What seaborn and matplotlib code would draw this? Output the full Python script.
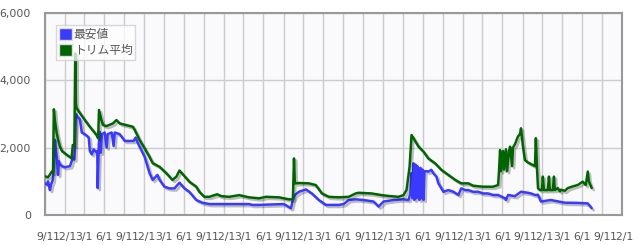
import matplotlib
matplotlib.use("Agg")
import matplotlib.pyplot as plt
import matplotlib.dates as mdates
import matplotlib.patheffects as pe
from matplotlib.patches import Patch
from matplotlib.ticker import FuncFormatter
import seaborn as sns
import pandas as pd

# ---------------- data ----------------
start_date = "2012-09-01"
series_names = ["最安値", "トリム平均"]
series_colors = ["#3a3aff", "#006400"]

min_days = [1, 11, 15, 24, 29, 37, 42, 47, 52, 56, 61, 65, 70, 79, 93, 116, 129, 136, 143, 152,
            161, 170, 189, 202, 207, 216, 225, 234, 241, 243, 248, 252, 257, 262, 275, 284, 289, 307, 316, 321,
            344, 367, 389, 408, 417, 426, 435, 458, 481, 495, 517, 527, 549, 572, 595, 618, 641, 663, 695, 723,
            755, 846, 937, 951, 983, 1097, 1129, 1138, 1147, 1166, 1198, 1225, 1257, 1289, 1348, 1371, 1394, 1426, 1462, 1508,
            1531, 1554, 1600, 1645, 1668, 1677, 1682, 1686, 1691, 1695, 1700, 1705, 1709, 1714, 1718, 1723, 1727, 1732, 1737, 1741,
            1750, 1759, 1773, 1782, 1796, 1805, 1814, 1828, 1851, 1874, 1897, 1910, 1929, 1942, 1965, 1988, 2010, 2033, 2056, 2079,
            2111, 2115, 2125, 2156, 2184, 2216, 2230, 2248, 2262, 2275, 2321, 2385, 2444, 2490, 2508]
min_price = [940, 900, 1000, 740, 900, 1040, 1400, 2230, 1900, 1700, 1190, 1600, 1500, 1450, 1420, 1450, 1700, 1650, 3000, 2900,
             2850, 2450, 2380, 2300, 1900, 1800, 1950, 1880, 1900, 800, 2100, 2470, 1850, 2400, 2450, 2000, 2400, 2450, 2050, 2450,
             2400, 2200, 2200, 2200, 2300, 2150, 2030, 1730, 1240, 1040, 1190, 1040, 840, 790, 790, 960, 790, 690, 445, 365,
             325, 325, 325, 300, 300, 325, 200, 445, 595, 690, 760, 640, 445, 300, 300, 325, 445, 465, 445, 400,
             250, 400, 445, 465, 445, 640, 1245, 500, 1535, 450, 1500, 500, 1450, 1340, 450, 1400, 500, 1350, 450, 1300,
             1300, 1290, 1340, 1240, 1140, 940, 840, 690, 740, 690, 595, 790, 740, 740, 690, 690, 640, 640, 595, 595,
             495, 445, 595, 560, 690, 660, 640, 595, 600, 400, 445, 365, 360, 345, 200]

trim_days = [1, 15, 24, 33, 38, 42, 47, 55, 61, 70, 79, 93, 107, 123, 129, 136, 140, 143, 146, 161,
             184, 207, 237, 245, 249, 255, 260, 268, 283, 313, 329, 344, 374, 405, 420, 435, 458, 481, 495, 527,
             558, 586, 604, 618, 636, 663, 695, 709, 732, 755, 791, 810, 846, 892, 937, 983, 1015, 1074, 1120, 1138,
             1143, 1147, 1166, 1211, 1243, 1271, 1303, 1348, 1394, 1426, 1440, 1499, 1545, 1577, 1622, 1645, 1659, 1673, 1682, 1700,
             1714, 1737, 1759, 1791, 1819, 1851, 1883, 1910, 1942, 1965, 2010, 2056, 2079, 2083, 2088, 2092, 2102, 2106, 2115, 2120,
             2129, 2134, 2143, 2147, 2156, 2170, 2179, 2184, 2193, 2202, 2216, 2248, 2252, 2257, 2262, 2271, 2280, 2284, 2289, 2307,
             2312, 2316, 2330, 2335, 2339, 2353, 2362, 2367, 2385, 2399, 2422, 2444, 2467, 2481, 2490, 2495, 2508]
trim_price = [1150, 1120, 1200, 1290, 1250, 3140, 2800, 2430, 2250, 2030, 1900, 1830, 1760, 1690, 2080, 2050, 4800, 3300, 3180, 3030,
              2820, 2620, 2380, 2280, 3120, 2950, 2820, 2670, 2640, 2720, 2820, 2720, 2670, 2620, 2430, 2230, 1980, 1720, 1540, 1430,
              1240, 1040, 1140, 1320, 1190, 990, 840, 690, 540, 540, 615, 560, 540, 590, 525, 495, 540, 525, 465, 465,
              1680, 940, 950, 940, 890, 640, 540, 525, 540, 640, 660, 640, 590, 565, 540, 590, 740, 1430, 2375, 2180,
              2030, 1880, 1680, 1530, 1340, 1190, 1040, 940, 940, 870, 840, 840, 890, 1300, 1930, 1300, 1900, 1350, 1950, 1300,
              1900, 2030, 1450, 2000, 2100, 2330, 2400, 2575, 2030, 1630, 1560, 1450, 2280, 1400, 790, 740, 740, 1140, 740, 740,
              1140, 740, 740, 1140, 740, 800, 700, 750, 720, 800, 850, 890, 990, 890, 1290, 1000, 800]

y_ticks = [0, 2000, 4000, 6000]
x_range = ["2012-09-01", "2019-12-01"]

# ---------------- frame ----------------
base = pd.Timestamp(start_date)
frames = []
for name, days, vals in [(series_names[0], min_days, min_price), (series_names[1], trim_days, trim_price)]:
    frames.append(pd.DataFrame({
        "date": base + pd.to_timedelta(days, unit="D"),
        "price": vals,
        "series": name,
    }))
df = pd.concat(frames, ignore_index=True)

sns.set_theme(style="white")
plt.rcParams["font.family"] = ["DejaVu Sans", "Noto Sans CJK JP"]

fig = plt.figure(figsize=(6.37, 2.45), dpi=100)
ax = fig.add_axes([44.7 / 637, 1 - 215 / 245, (622 - 44.7) / 637, (215 - 13) / 245])
ax.set_facecolor("#fafafd")

palette = dict(zip(series_names, series_colors))
sns.lineplot(data=df, x="date", y="price", hue="series", palette=palette,
             estimator=None, sort=False, linewidth=1.8, legend=False, ax=ax, zorder=3)

for ln in ax.lines:
    ln.set_path_effects([pe.SimpleLineShadow(offset=(1.5, -1.5), shadow_color="black", alpha=0.25),
                         pe.Normal()])

ax.set_xlim(pd.Timestamp(x_range[0]), pd.Timestamp(x_range[1]))
ax.set_ylim(y_ticks[0], y_ticks[-1])
ax.set_yticks(y_ticks)
ax.yaxis.set_major_formatter(FuncFormatter(lambda v, p: f"{int(v):,}"))
ax.xaxis.set_major_locator(mdates.MonthLocator(bymonth=[3, 6, 9, 12], bymonthday=1))
ax.xaxis.set_major_formatter(FuncFormatter(lambda v, p: f"{mdates.num2date(v).month}/{mdates.num2date(v).day}"))

ax.grid(True, color="#cccccc", linewidth=1.0, zorder=0)
ax.set_axisbelow(True)
for s in ax.spines.values():
    s.set_color("#999999")
    s.set_linewidth(1.5)
ax.tick_params(axis="both", direction="out", length=5, width=1, color="#999999",
               labelsize=7.8, labelcolor="#555555", pad=5)
ax.tick_params(axis="x", pad=7)
ax.set_xlabel("")
ax.set_ylabel("")

handles = [Patch(facecolor=c, edgecolor="#dddddd", linewidth=1.0) for c in series_colors]
leg = ax.legend(handles, series_names, loc="upper left",
                bbox_to_anchor=((56 - 44.7) / 577.3, (215 - 25) / 202),
                prop={"family": ["Noto Sans CJK JP", "DejaVu Sans"], "size": 8.5},
                handlelength=1.1, handleheight=1.1, handletextpad=0.15,
                labelspacing=0.25, borderpad=0.25, borderaxespad=0,
                frameon=True, fancybox=False, framealpha=0.75, edgecolor="#cccccc")
leg.get_frame().set_linewidth(1.0)
for t in leg.get_texts():
    t.set_color("#555555")

fig.savefig("out.png", dpi=100)
